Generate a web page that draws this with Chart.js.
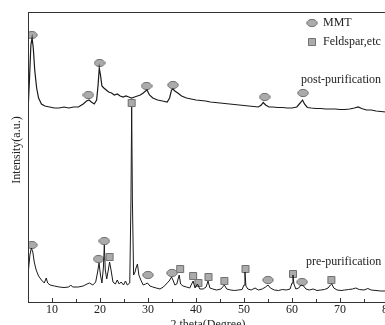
<!DOCTYPE html>
<html>
<head>
<meta charset="utf-8">
<script src="https://cdn.jsdelivr.net/npm/chart.js@4.4.0/dist/chart.umd.min.js"></script>
<style>
  html, body { margin: 0; padding: 0; background: #fff; overflow: hidden; }
  #wrap { width: 395px; height: 335px; }
</style>
</head>
<body>
<div id="wrap"><canvas id="xrd" width="395" height="335"></canvas></div>
<script>
// XRD patterns, 2 theta (degree) vs intensity (a.u.)
const postTheta = [5.0,5.3,5.6,5.85,6.1,6.4,6.8,7.2,7.8,8.5,9.5,10.5,11.5,12.5,13.5,14.5,15.5,16.5,17.2,17.7,18.2,18.8,19.3,19.6,19.85,20.1,20.4,20.8,21.3,21.8,22.4,23.0,23.6,24.2,24.8,25.4,26.0,26.6,27.2,27.8,28.4,29.0,29.5,29.8,30.3,31.0,32.0,33.0,34.0,34.5,34.9,35.2,35.6,36.2,37.0,38.0,39.0,40.0,41,42,43,44,45,46,47,48,49,50,51,52,53,53.6,54.0,54.5,55.2,56,57,58,59,60,61,61.7,62.2,62.6,63.2,64,65,66,67,68,69,70,71,72,73,73.8,74.5,75.5,76.5,77.5,78.5,79.5,80];
const postInt = [190,222,257,264,254,232,214,204,198,196,195,194,194,195,194,195,195,198,201,202,200,198,202,217,234,227,216,214,212,210,209,207,208,206,205,206,205,204,205,206,207,209,211,212,207,204,202,201,200,204,212,213,211,209,206,204,203,202,201.5,201,200,199.5,199,198.5,198,197.5,197,196.5,196,195.5,195,197,199.5,197,195,195,194.5,194.5,194,194,195,199,202,198,194.5,194,193.5,193.5,193,193,193,192.5,192.5,193,194,195,193.5,192,192,191,190.5,190,190];

const preTheta = [5.0,5.4,5.7,6.0,6.3,6.7,7.2,7.8,8.4,8.8,9.1,9.6,10.5,11.5,12.5,13.5,13.9,14.3,15.5,16.5,17.3,17.8,18.5,19.1,19.5,19.8,20.1,20.4,20.7,20.9,21.1,21.4,21.8,22.0,22.3,22.7,23.2,23.6,24.0,24.4,24.9,25.3,25.7,26.2,26.45,26.6,26.75,27.0,27.3,27.5,27.8,28.1,28.5,29.0,29.5,29.9,30.4,31.0,31.7,32.5,33.2,33.8,34.4,34.9,35.2,35.6,36.0,36.5,36.8,37.3,38.0,38.7,39.4,39.8,40.3,40.8,41.5,42.1,42.5,42.9,43.5,44.3,45.2,45.9,46.4,47.2,48.0,48.8,49.6,50.0,50.2,50.4,50.8,51.5,52.3,53.0,53.8,54.5,55.0,55.5,56.3,57.2,58.0,58.8,59.6,60.0,60.2,60.4,60.8,61.4,61.9,62.4,62.9,63.6,64.4,65.2,66.0,66.8,67.5,68.0,68.3,68.7,69.4,70.2,71.0,71.8,72.6,73.3,74.0,75.0,75.8,76.5,77.5,78.5,79.5,80];
const preInt = [27,47,54,50,40,32,26,22,19,24,19,17,16,15,14.5,15,17,15,15,16,18,19,17,20,30,39,27,19,34,57,32,23,34,40,32,20,18,22,18,20,17,21,17,19,102,195,102,27,30,34,38,27,22,17,18,19,16,15,14,13,15,18,21,25,22,17,18,27,18,16,15,14,21,14,18,13,13,15,21,14,13,12,13,17,13,12,11.5,12,12.5,17,30,16,13,12,14,12,13,15,17,14,12,11.5,12.5,12,13,19,27,18,13,14,17,16,13,12,13,11.5,12,12.5,14,17,18,14,12,11.5,12,12.5,13,14,12.5,12,13.5,12,11.5,11,11,11];

// phase markers
const mmtTheta = [5.8,17.6,19.9,29.7,35.2,54.3,62.3, 5.8,19.7,20.9,30.0,35.0,55.0,62.1];
const mmtInt = [267,207,239,216,217,205,209, 57,43,61,27,29,22,20];
const feldTheta = [26.6,22.0,36.7,39.4,40.5,42.6,45.9,50.3,60.2,68.2];
const feldInt = [199,45,33,26,19,25,21,33,28,22];

const majorTicks = [10,20,30,40,50,60,70,80];
const seriesLabels = ['post-purification','pre-purification'];
const phaseLabels = ['MMT','Feldspar,etc'];
const yTitle = 'Intensity(a.u.)';

const serif = "'Liberation Serif', 'Times New Roman', serif";

function zip(xs, ys) { return xs.map((x, i) => ({ x: x, y: ys[i] })); }

// grey marker glyphs
function makeMarker(kind) {
  const c = document.createElement('canvas');
  c.width = 12; c.height = 10;
  const g = c.getContext('2d');
  g.fillStyle = '#ababab';
  g.strokeStyle = '#707070';
  g.lineWidth = 1;
  g.beginPath();
  if (kind === 'ellipse') g.ellipse(6, 5, 5.2, 3.6, 0, 0, Math.PI * 2);
  else g.rect(2.5, 1.5, 7, 7);
  g.fill();
  g.stroke();
  return c;
}
const ellipseImg = makeMarker('ellipse');
const squareImg = makeMarker('square');

const decorPlugin = {
  id: 'decor',
  afterDraw(chart) {
    const ctx = chart.ctx;
    const a = chart.chartArea;
    const xs = chart.scales.x, ys = chart.scales.y;
    ctx.save();
    // frame
    ctx.strokeStyle = '#333';
    ctx.lineWidth = 1;
    ctx.strokeRect(a.left + 0.5, a.top + 0.5, a.right - a.left, a.bottom - a.top);
    // inward ticks
    xs.ticks.forEach(t => {
      const px = Math.round(xs.getPixelForValue(t.value)) + 0.5;
      const len = majorTicks.includes(t.value) ? 4 : 3;
      ctx.beginPath();
      ctx.moveTo(px, a.bottom);
      ctx.lineTo(px, a.bottom - len);
      ctx.stroke();
    });
    ctx.fillStyle = '#222';
    ctx.font = '12px ' + serif;
    ctx.textBaseline = 'middle';
    // y axis title
    ctx.save();
    ctx.translate(a.left - 11, (a.top + a.bottom) / 2 - 7);
    ctx.rotate(-Math.PI / 2);
    ctx.textAlign = 'center';
    ctx.fillText(yTitle, 0, 0);
    ctx.restore();
    // series labels
    ctx.textAlign = 'left';
    ctx.fillText(seriesLabels[0], xs.getPixelForValue(61.9), ys.getPixelForValue(222));
    ctx.fillText(seriesLabels[1], xs.getPixelForValue(62.9), ys.getPixelForValue(40));
    // legend
    const lx = a.right - 76, ly = a.top + 11;
    ctx.drawImage(ellipseImg, lx - 6, ly - 5);
    ctx.fillText(phaseLabels[0], lx + 11, ly);
    ctx.drawImage(squareImg, lx - 6, ly + 14);
    ctx.fillText(phaseLabels[1], lx + 11, ly + 19);
    ctx.restore();
  }
};

new Chart(document.getElementById('xrd'), {
  type: 'line',
  data: {
    datasets: [
      { label: seriesLabels[0], data: zip(postTheta, postInt), borderColor: '#1a1a1a', borderWidth: 1.2, pointRadius: 0, tension: 0 },
      { label: seriesLabels[1], data: zip(preTheta, preInt), borderColor: '#1a1a1a', borderWidth: 1, pointRadius: 0, tension: 0 },
      { label: phaseLabels[0], data: zip(mmtTheta, mmtInt), showLine: false, pointStyle: ellipseImg, pointRadius: 5 },
      { label: phaseLabels[1], data: zip(feldTheta, feldInt), showLine: false, pointStyle: squareImg, pointRadius: 5 }
    ]
  },
  options: {
    responsive: false,
    animation: false,
    layout: { padding: { top: 12, right: 7, left: 0, bottom: 0 } },
    plugins: { legend: { display: false }, tooltip: { enabled: false } },
    scales: {
      x: {
        type: 'linear', min: 5, max: 80,
        grid: { display: false, drawTicks: false },
        border: { display: false },
        ticks: {
          stepSize: 5, padding: 1, maxRotation: 0, autoSkip: false,
          color: '#222', font: { family: serif, size: 12 },
          callback: v => majorTicks.includes(v) ? String(v) : ''
        },
        title: { display: true, text: '2 theta(Degree)', color: '#222', font: { family: serif, size: 12 }, padding: { top: 0, bottom: 3 } },
        afterFit: s => { s.height = 33; }
      },
      y: {
        min: 0, max: 290,
        grid: { display: false, drawTicks: false },
        border: { display: false },
        ticks: { display: false },
        title: { display: false },
        afterFit: s => { s.width = 28; }
      }
    }
  },
  plugins: [decorPlugin]
});
</script>
</body>
</html>
